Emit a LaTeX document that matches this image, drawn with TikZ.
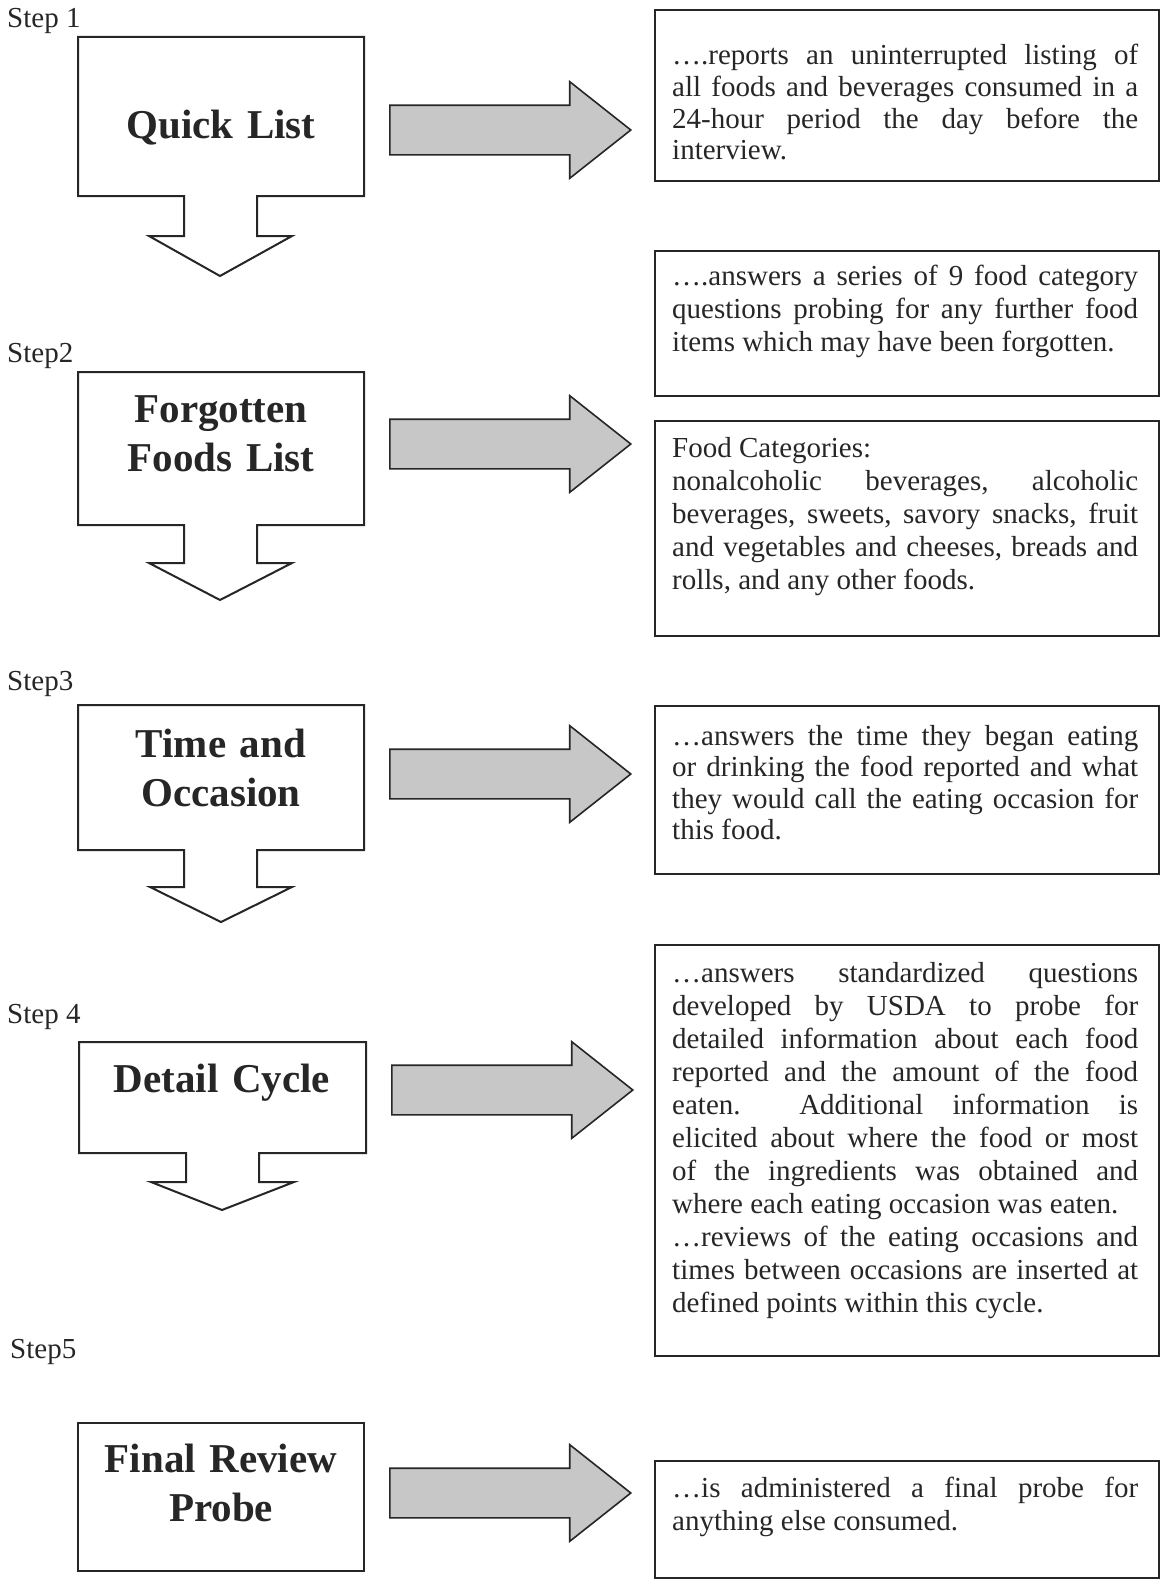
\documentclass[tikz,border=0pt]{standalone}
\usepackage{fontspec}
\setmainfont{Liberation Serif}
\usetikzlibrary{shapes.arrows,calc}
\tolerance=10000
\hyphenpenalty=10000
\frenchspacing
\tikzset{
x=1pt,y=-1pt,
every node/.style={inner sep=0pt, text=black!85},
stepcall/.style=
    {draw=black!85,
    line width=2pt,
    fill=white
    },
steplabel/.style={anchor=base west, font=\fontsize{29}{33}\selectfont},
title/.style=
    {anchor=base,
    text width=286pt,
    align=center,
    font=\fontsize{41}{49}\selectfont\bfseries
    },
descbox/.style={draw=black!85, line width=2pt, anchor=north west, minimum width=504pt},
desc/.style=
    {anchor=base west,
    text width=466pt,
    align=justify,
    font=\fontsize{29}{33}\selectfont
    },
grayarrow/.style=
    {single arrow,
    draw=black!85,
    line width=1.6pt,
    fill=black!22,
    anchor=tail,
    inner xsep=0pt,
    inner ysep=24pt,
    minimum height=241pt,
    single arrow head extend=23.5pt,
    single arrow tip angle=76.7
    }}

\begin{document}
\begin{tikzpicture}
\useasboundingbox (0,0) rectangle (1160,1579);

% step labels
\node[steplabel] (l1) at (7,28) {Step 1};
\node[steplabel] (l2) at (7,362) {Step2};
\node[steplabel] (l3) at (7,690) {Step3};
\node[steplabel] (l4) at (7,1023) {Step 4};
\node[steplabel] (l5) at (10,1358) {Step5};

% callout boxes
\draw[stepcall] (78,37) -- (364,37) -- (364,196) -- (257,196) -- (257,236) -- (292,236) -- (220,276) -- (149,236) -- (184,236) -- (184,196) -- (78,196) -- cycle;
\draw[stepcall] (78,372) -- (364,372) -- (364,525) -- (257,525) -- (257,563) -- (292,563) -- (220,600) -- (149,563) -- (184,563) -- (184,525) -- (78,525) -- cycle;
\draw[stepcall] (78,705) -- (364,705) -- (364,850) -- (257,850) -- (257,887) -- (292,887) -- (221,922) -- (150,887) -- (184,887) -- (184,850) -- (78,850) -- cycle;
\draw[stepcall] (79,1042) -- (366,1042) -- (366,1153) -- (259,1153) -- (259,1182) -- (294,1182) -- (222,1210) -- (151,1182) -- (186,1182) -- (186,1153) -- (79,1153) -- cycle;
\draw[stepcall] (78,1423) rectangle (364,1571);

\node[title] (quick) at (221,138) {Quick List};
\node[title] (forgot) at (221,422) {Forgotten\\Foods List};
\node[title] (time) at (221,757) {Time and\\Occasion};
\node[title] (detail) at (222,1092) {Detail Cycle};
\node[title] (final) at (221,1472) {Final Review\\Probe};

% gray arrows
\node[grayarrow] (a1) at (389,130) {};
\node[grayarrow] (a2) at (389,444) {};
\node[grayarrow] (a3) at (389,774) {};
\node[grayarrow] (a4) at (391,1090) {};
\node[grayarrow] (a5) at (389,1493) {};

% description boxes
\node[descbox, minimum height=171pt] (d1) at (654,9) {};
\node[desc, font=\fontsize{29}{31.5}\selectfont] (d1t) at ($(d1.north west)+(18,56)$) {….reports an uninterrupted listing of\linebreak all foods and beverages consumed in a\linebreak 24-hour period the day before the\linebreak interview.};

\node[descbox, minimum height=145pt] (d2) at (654,250) {};
\node[desc] (d2t) at ($(d2.north west)+(18,35)$) {….answers a series of 9 food category\linebreak questions probing for any further food\linebreak items which may have been forgotten.};

\node[descbox, minimum height=215pt] (d3) at (654,420) {};
\node[desc] (d3t) at ($(d3.north west)+(18,37)$) {Food Categories:\\nonalcoholic beverages, alcoholic\linebreak beverages, sweets, savory snacks, fruit\linebreak and vegetables and cheeses, breads and\linebreak rolls, and any other foods.};

\node[descbox, minimum height=168pt] (d4) at (654,705) {};
\node[desc, font=\fontsize{29}{31.5}\selectfont] (d4t) at ($(d4.north west)+(18,40)$) {…answers the time they began eating\linebreak or drinking the food reported and what\linebreak they would call the eating occasion for\linebreak this food.};

\node[descbox, minimum height=411pt] (d5) at (654,944) {};
\node[desc] (d5t) at ($(d5.north west)+(18,38)$) {…answers standardized questions\linebreak developed by USDA to probe for\linebreak detailed information about each food\linebreak reported and the amount of the food\linebreak eaten.\ \ Additional information is\linebreak elicited about where the food or most\linebreak of the ingredients was obtained and\linebreak where each eating occasion was eaten.\\…reviews of the eating occasions and\linebreak times between occasions are inserted at\linebreak defined points within this cycle.};

\node[descbox, minimum height=117pt] (d6) at (654,1460) {};
\node[desc] (d6t) at ($(d6.north west)+(18,37)$) {…is administered a final probe for\linebreak anything else consumed.};

\end{tikzpicture}
\end{document}
